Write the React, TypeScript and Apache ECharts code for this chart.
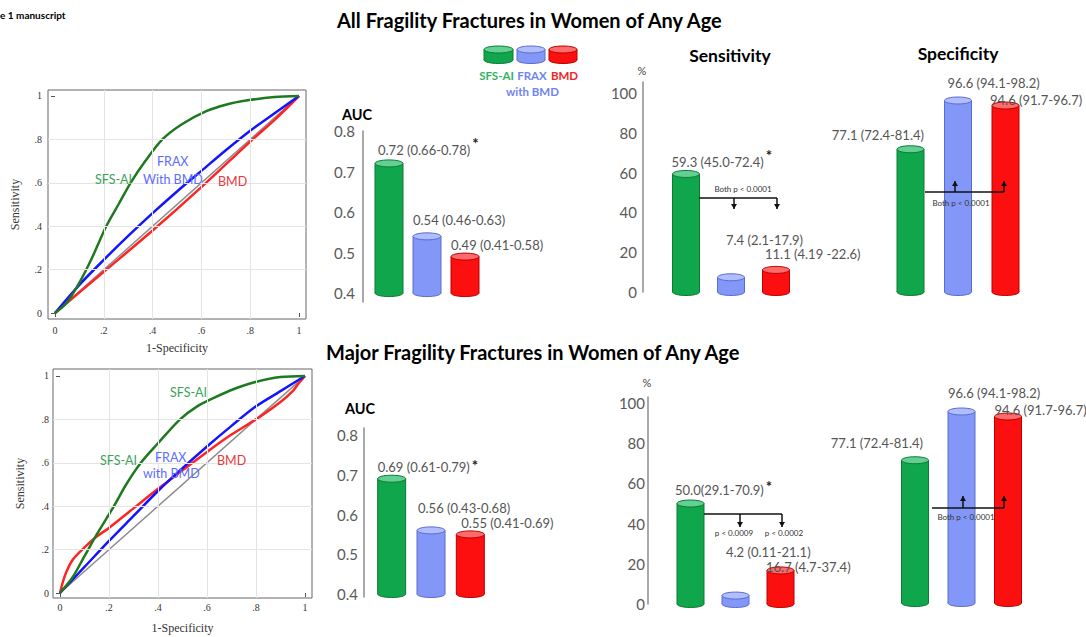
import React, { useEffect, useRef } from "react";
import * as echarts from "echarts";

// ---------- DATA ----------
const models = ["SFS-AI", "FRAX with BMD", "BMD"];

const allAuc = [0.72, 0.54, 0.49];
const allAucLabels = ["0.72 (0.66-0.78)", "0.54 (0.46-0.63)", "0.49 (0.41-0.58)"];
const allSens = [59.3, 7.4, 11.1];
const allSensLabels = ["59.3 (45.0-72.4)", "7.4 (2.1-17.9)", "11.1 (4.19 -22.6)"];
const allSpec = [77.1, 96.6, 94.6];
const allSpecLabels = ["77.1 (72.4-81.4)", "96.6 (94.1-98.2)", "94.6 (91.7-96.7)"];

const majorAuc = [0.69, 0.56, 0.55];
const majorAucLabels = ["0.69 (0.61-0.79)", "0.56 (0.43-0.68)", "0.55 (0.41-0.69)"];
const majorSens = [50.0, 4.2, 16.7];
const majorSensLabels = ["50.0(29.1-70.9)", "4.2 (0.11-21.1)", "16.7 (4.7-37.4)"];
const majorSpec = [77.1, 96.6, 94.6];
const majorSpecLabels = ["77.1 (72.4-81.4)", "96.6 (94.1-98.2)", "94.6 (91.7-96.7)"];

const aucTicks = [0.4, 0.5, 0.6, 0.7, 0.8];
const pctTicks = [0, 20, 40, 60, 80, 100];
const rocTicks = [0, 0.2, 0.4, 0.6, 0.8, 1];
const rocTickLabels = ["0", ".2", ".4", ".6", ".8", "1"];
const rocGridValues = [0.2, 0.4, 0.6, 0.8];

// ROC curves (1-specificity, sensitivity)
const allRocSfs = [[0, 0], [0.05, 0.05], [0.1, 0.14], [0.15, 0.25], [0.21, 0.4], [0.26, 0.5], [0.31, 0.6], [0.37, 0.7], [0.44, 0.8], [0.52, 0.87], [0.62, 0.93], [0.7, 0.96], [0.79, 0.98], [0.9, 0.995], [1, 1]];
const allRocFrax = [[0, 0], [0.1, 0.13], [0.2, 0.245], [0.3, 0.355], [0.4, 0.46], [0.5, 0.56], [0.6, 0.655], [0.7, 0.75], [0.8, 0.84], [0.9, 0.92], [1, 1]];
const allRocBmd = [[0, 0], [0.2, 0.19], [0.4, 0.38], [0.6, 0.58], [0.8, 0.79], [0.9, 0.89], [1, 1]];
const majorRocSfs = [[0, 0], [0.05, 0.07], [0.1, 0.17], [0.15, 0.27], [0.22, 0.4], [0.27, 0.5], [0.33, 0.6], [0.4, 0.69], [0.49, 0.8], [0.56, 0.86], [0.63, 0.9], [0.71, 0.94], [0.79, 0.97], [0.9, 0.995], [1, 1]];
const majorRocFrax = [[0, 0], [0.1, 0.12], [0.2, 0.24], [0.3, 0.355], [0.4, 0.47], [0.5, 0.575], [0.6, 0.675], [0.7, 0.77], [0.8, 0.86], [0.9, 0.93], [1, 1]];
const majorRocBmd = [[0, 0], [0.02, 0.08], [0.05, 0.15], [0.1, 0.21], [0.15, 0.26], [0.2, 0.3], [0.3, 0.39], [0.4, 0.48], [0.5, 0.565], [0.6, 0.65], [0.7, 0.73], [0.8, 0.8], [0.9, 0.88], [0.95, 0.93], [0.97, 0.96], [1, 1]];
const chanceLine = [[0, 0], [1, 1]];

// ---------- STYLE ----------
const FONT = "Lato, 'Open Sans', sans-serif";
const SERIF = "'Liberation Serif', 'DejaVu Serif', serif";
const bodyFill = ["#10a64b", "#8297f7", "#fb0f0f"];
const topFill = ["#63cf92", "#b0bdff", "#ff6b6b"];
const edge = ["#0b7a36", "#5a6cc9", "#b80000"];
const rocColors = ["#1f7a1f", "#1414ff", "#ff2424"];
const rocLabelColors = ["#3aa35a", "#5b6cff", "#e8383d"];

let measureCtx: CanvasRenderingContext2D | null = null;
function textWidth(t: string, font: string) {
  if (!measureCtx) measureCtx = document.createElement("canvas").getContext("2d");
  if (!measureCtx) return t.length * 7;
  measureCtx.font = font;
  return measureCtx.measureText(t).width;
}

type LabelPos = { anchor: "left" | "right"; dx: number; dy: number };
type Panel = {
  grid: { left: number; top: number; width: number; height: number };
  yMin: number; yMax: number; base: number;
  ticks: number[] | null; fmt: (v: number) => string;
  offset: number; labelMargin: number;
  values: number[]; labels: string[];
  barW: number; labelPos: LabelPos[]; starDy?: number;
};

const panels: Panel[] = [
  { grid: { left: 370, top: 131, width: 114, height: 171 }, yMin: 0.378, yMax: 0.8, base: 0.4, ticks: aucTicks, fmt: (v) => v.toFixed(1), offset: 7, labelMargin: 8, values: allAuc, labels: allAucLabels, barW: 28,
    labelPos: [{ anchor: "left", dx: 3, dy: -13 }, { anchor: "left", dx: 0, dy: -16 }, { anchor: "left", dx: 0, dy: -11.5 }], starDy: -7 },
  { grid: { left: 663.5, top: 82, width: 135, height: 210 }, yMin: 0, yMax: 105.5, base: 0, ticks: pctTicks, fmt: (v) => String(v), offset: 20.5, labelMargin: 6, values: allSens, labels: allSensLabels, barW: 27,
    labelPos: [{ anchor: "left", dx: -1, dy: -12 }, { anchor: "left", dx: 8.5, dy: -37 }, { anchor: "left", dx: 2.5, dy: -16 }], starDy: -7 },
  { grid: { left: 886.75, top: 92, width: 142.5, height: 200 }, yMin: 20, yMax: 100, base: 20, ticks: null, fmt: (v) => String(v), offset: 0, labelMargin: 0, values: allSpec, labels: allSpecLabels, barW: 27,
    labelPos: [{ anchor: "right", dx: 0, dy: -14 }, { anchor: "left", dx: 3, dy: -17.5 }, { anchor: "left", dx: -2, dy: -5.5 }] },
  { grid: { left: 372, top: 428, width: 118, height: 169 }, yMin: 0.3925, yMax: 0.8176, base: 0.4, ticks: aucTicks, fmt: (v) => v.toFixed(1), offset: 8, labelMargin: 6, values: majorAuc, labels: majorAucLabels, barW: 28,
    labelPos: [{ anchor: "left", dx: 0, dy: -12 }, { anchor: "left", dx: 1, dy: -22 }, { anchor: "left", dx: 5, dy: -11.5 }], starDy: -2 },
  { grid: { left: 668, top: 397, width: 135, height: 207 }, yMin: 0, yMax: 103, base: 0, ticks: pctTicks, fmt: (v) => String(v), offset: 20, labelMargin: 3, values: majorSens, labels: majorSensLabels, barW: 27,
    labelPos: [{ anchor: "left", dx: -2, dy: -13.5 }, { anchor: "left", dx: 4, dy: -43.5 }, { anchor: "left", dx: -1, dy: -3.5 }], starDy: -4 },
  { grid: { left: 891.75, top: 403, width: 139.5, height: 200 }, yMin: 20, yMax: 100, base: 20, ticks: null, fmt: (v) => String(v), offset: 0, labelMargin: 0, values: majorSpec, labels: majorSpecLabels, barW: 27,
    labelPos: [{ anchor: "right", dx: -5.5, dy: -17 }, { anchor: "left", dx: 0, dy: -18.5 }, { anchor: "left", dx: 0, dy: -6.5 }] },
];

const rocPanels = [
  { grid: { left: 48, top: 90, width: 258, height: 229 }, xMin: -0.0287, xMax: 1.0287, yMin: -0.0276, yMax: 1.0276, curves: [allRocSfs, allRocFrax, allRocBmd], xGap: 23, yGap: 27, labelMargin: 6 },
  { grid: { left: 53, top: 369, width: 259, height: 229 }, xMin: -0.0286, xMax: 1.0286, yMin: -0.023, yMax: 1.032, curves: [majorRocSfs, majorRocFrax, majorRocBmd], xGap: 24, yGap: 27, labelMargin: 4 },
];

const LABEL_FONT_SIZE = 13;

function cylinderSeries(p: Panel, axisIdx: number) {
  return {
    type: "custom",
    xAxisIndex: axisIdx,
    yAxisIndex: axisIdx,
    silent: true,
    z: 3,
    data: p.values.map((v, i) => [i, v]),
    renderItem: (_params: any, api: any) => {
      const i = api.value(0) as number;
      const v = api.value(1) as number;
      const top = api.coord([i, v]);
      const bot = api.coord([i, p.base]);
      const rx = p.barW / 2;
      const ry = 3.5;
      const cx = top[0];
      const lp = p.labelPos[i];
      const lx = lp.anchor === "left" ? cx - rx + lp.dx : cx + rx + lp.dx;
      const ly = top[1] + lp.dy;
      const children: any[] = [
        { type: "ellipse", shape: { cx, cy: bot[1], rx, ry }, style: { fill: bodyFill[i], stroke: edge[i], lineWidth: 1 } },
        { type: "rect", shape: { x: cx - rx, y: top[1], width: rx * 2, height: bot[1] - top[1] }, style: { fill: bodyFill[i] } },
        { type: "line", shape: { x1: cx - rx, y1: top[1], x2: cx - rx, y2: bot[1] }, style: { stroke: edge[i], lineWidth: 1 } },
        { type: "line", shape: { x1: cx + rx, y1: top[1], x2: cx + rx, y2: bot[1] }, style: { stroke: edge[i], lineWidth: 1 } },
        { type: "ellipse", shape: { cx, cy: top[1], rx, ry }, style: { fill: topFill[i], stroke: edge[i], lineWidth: 1 } },
        { type: "text", x: lx, y: ly, style: { text: p.labels[i], fill: "#555555", fontSize: LABEL_FONT_SIZE, lineHeight: 13, fontFamily: FONT, align: lp.anchor, verticalAlign: "middle" } },
      ];
      if (i === 0 && p.starDy !== undefined) {
        const w = textWidth(p.labels[i], `${LABEL_FONT_SIZE}px ${FONT}`);
        const ex = lp.anchor === "left" ? lx + w : lx;
        children.push({ type: "text", x: ex + 2, y: ly + p.starDy, style: { text: "*", fill: "#222222", fontSize: 15, lineHeight: 12, fontWeight: "bold", fontFamily: FONT, align: "left", verticalAlign: "middle" } });
      }
      return { type: "group", children };
    },
  };
}

function txt(text: string, x: number, y: number, o: { size: number; color?: string; weight?: string; align?: string; family?: string; lh?: number }) {
  const align = o.align ?? "left";
  return {
    type: "text", x, y, silent: true, z: 10,
    style: {
      text, fill: o.color ?? "#000",
      fontSize: o.size, fontWeight: o.weight ?? "normal", fontFamily: o.family ?? FONT,
      lineHeight: o.lh ?? Math.round(o.size * 1.1),
      align, textAlign: align, verticalAlign: "middle", textVerticalAlign: "middle",
    },
  };
}

function cylIcon(x: number, w: number, yTop: number, yBot: number, i: number) {
  const rx = w / 2, cx = x + rx, ry = 3.5;
  return [
    { type: "ellipse", shape: { cx, cy: yBot, rx, ry }, style: { fill: bodyFill[i], stroke: edge[i], lineWidth: 1 }, silent: true },
    { type: "rect", shape: { x, y: yTop, width: w, height: yBot - yTop }, style: { fill: bodyFill[i] }, silent: true },
    { type: "line", shape: { x1: x, y1: yTop, x2: x, y2: yBot }, style: { stroke: edge[i], lineWidth: 1 }, silent: true },
    { type: "line", shape: { x1: x + w, y1: yTop, x2: x + w, y2: yBot }, style: { stroke: edge[i], lineWidth: 1 }, silent: true },
    { type: "ellipse", shape: { cx, cy: yTop, rx, ry }, style: { fill: topFill[i], stroke: edge[i], lineWidth: 1 }, silent: true },
  ];
}

function bracket(x1: number, x2: number, y: number, stems: number[][], dir: "up" | "down") {
  const els: any[] = [
    { type: "line", shape: { x1, y1: y, x2, y2: y }, style: { stroke: "#111", lineWidth: 1.5 }, silent: true, z: 10 },
  ];
  stems.forEach(([sx, ye]) => {
    els.push({ type: "line", shape: { x1: sx, y1: y, x2: sx, y2: ye }, style: { stroke: "#111", lineWidth: 1.5 }, silent: true, z: 10 });
    const s = dir === "down" ? -5 : 5;
    els.push({ type: "polygon", shape: { points: [[sx - 3, ye + s], [sx + 3, ye + s], [sx, ye]] }, style: { fill: "#111" }, silent: true, z: 10 });
  });
  return els;
}

export default function App() {
  const ref = useRef<HTMLDivElement>(null);
  useEffect(() => {
    document.body.style.margin = "0";
    if (!ref.current) return;
    const chart = echarts.init(ref.current, undefined, { renderer: "svg" });

    const grids: any[] = [];
    const xAxes: any[] = [];
    const yAxes: any[] = [];
    const series: any[] = [];

    rocPanels.forEach((r) => {
      const gi = grids.length;
      grids.push({ ...r.grid, show: true, borderColor: "#666", borderWidth: 1, backgroundColor: "#fff", containLabel: false });
      const axisCommon = {
        type: "value",
        gridIndex: gi,
        axisLine: { show: false },
        axisTick: { show: true, customValues: rocTicks, length: 4, lineStyle: { color: "#555" } },
        splitLine: { show: false },
        axisLabel: {
          customValues: rocTicks,
          formatter: (v: number) => { const idx = rocTicks.findIndex((t) => Math.abs(t - v) < 1e-6); return idx >= 0 ? rocTickLabels[idx] : ""; },
          fontFamily: SERIF, fontSize: 10, color: "#333", margin: r.labelMargin,
        },
        nameLocation: "middle",
        nameTextStyle: { fontFamily: SERIF, fontSize: 12, color: "#333" },
      };
      xAxes.push({ ...axisCommon, min: r.xMin, max: r.xMax, name: "1-Specificity", nameGap: r.xGap });
      yAxes.push({ ...axisCommon, min: r.yMin, max: r.yMax, name: "Sensitivity", nameGap: r.yGap });
      series.push({
        type: "line", xAxisIndex: gi, yAxisIndex: gi, data: chanceLine, symbol: "none", silent: true, z: 1,
        lineStyle: { color: "#8c8c8c", width: 1.5 },
        markLine: {
          silent: true, symbol: "none", label: { show: false },
          lineStyle: { color: "#e4e4e4", width: 1, type: "solid" },
          data: [...rocGridValues.map((v) => ({ xAxis: v })), ...rocGridValues.map((v) => ({ yAxis: v }))],
        },
      });
      [2, 1, 0].forEach((ci) => {
        series.push({
          type: "line", xAxisIndex: gi, yAxisIndex: gi, data: r.curves[ci], symbol: "none", smooth: 0.3, silent: true,
          z: 2 + (2 - ci),
          lineStyle: { color: rocColors[ci], width: 2.5 },
        });
      });
    });

    panels.forEach((p) => {
      const gi = grids.length;
      grids.push({ ...p.grid, containLabel: false });
      xAxes.push({ type: "category", gridIndex: gi, data: models, show: false });
      if (p.ticks) {
        yAxes.push({
          type: "value", gridIndex: gi, min: p.yMin, max: p.yMax, offset: p.offset,
          axisLine: { show: true, lineStyle: { color: "#8c8c8c", width: 1.5 } },
          axisTick: { show: false },
          splitLine: { show: false },
          axisLabel: { customValues: p.ticks, formatter: p.fmt, color: "#595959", fontSize: 15, lineHeight: 13, fontFamily: FONT, margin: p.labelMargin },
        });
      } else {
        yAxes.push({ type: "value", gridIndex: gi, min: p.yMin, max: p.yMax, show: false, splitLine: { show: false } });
      }
      series.push(cylinderSeries(p, gi));
    });

    const graphic: any[] = [
      txt("e 1 manuscript", 0, 15, { size: 10, weight: "bold" }),
      txt("All Fragility Fractures in Women of Any Age", 337, 20, { size: 20, weight: "bold" }),
      txt("Major Fragility Fractures in Women of Any Age", 326, 352, { size: 20, weight: "bold" }),
      txt("Sensitivity", 730, 55, { size: 17.5, weight: "bold", align: "center" }),
      txt("Specificity", 958, 53, { size: 17.5, weight: "bold", align: "center" }),
      txt("%", 642, 70, { size: 11, color: "#444", align: "center" }),
      txt("%", 647, 382, { size: 11, color: "#444", align: "center" }),
      txt("AUC", 342, 114, { size: 14.5, weight: "bold", lh: 11 }),
      txt("AUC", 345, 408, { size: 14.5, weight: "bold", lh: 11 }),
      // legend
      ...cylIcon(484, 29, 49.5, 60, 0),
      ...cylIcon(517, 28, 49.5, 60, 1),
      ...cylIcon(549, 28, 49.5, 60, 2),
      txt("SFS-AI", 496.5, 75, { size: 11.5, color: "#2fb35e", align: "center", weight: "bold" }),
      txt("FRAX", 532, 75, { size: 11.5, color: "#6f84f2", align: "center", weight: "bold" }),
      txt("BMD", 564.5, 75, { size: 11.5, color: "#f22424", align: "center", weight: "bold" }),
      txt("with BMD", 532.5, 91, { size: 11.5, color: "#6f84f2", align: "center", weight: "bold" }),
      // ROC annotations
      txt("SFS-AI", 95, 179, { size: 12.5, color: rocLabelColors[0] }),
      txt("FRAX", 157, 161, { size: 12.5, color: rocLabelColors[1] }),
      txt("With BMD", 143, 179, { size: 12.5, color: rocLabelColors[1] }),
      txt("BMD", 218, 181, { size: 12.5, color: rocLabelColors[2] }),
      txt("SFS-AI", 170, 392, { size: 12.5, color: rocLabelColors[0] }),
      txt("SFS-AI", 100, 460, { size: 12.5, color: rocLabelColors[0] }),
      txt("FRAX", 155, 457, { size: 12.5, color: rocLabelColors[1] }),
      txt("with BMD", 143, 473, { size: 12.5, color: rocLabelColors[1] }),
      txt("BMD", 217, 460, { size: 12.5, color: rocLabelColors[2] }),
      // brackets
      ...bracket(699, 777, 198, [[734, 209], [777, 209]], "down"),
      txt("Both p < 0.0001", 743, 189, { size: 8, color: "#333", align: "center" }),
      ...bracket(704, 782, 514, [[740, 527], [782, 527]], "down"),
      txt("p < 0.0009", 734, 533, { size: 8, color: "#333", align: "center" }),
      txt("p < 0.0002", 784, 533, { size: 8, color: "#333", align: "center" }),
      ...bracket(925, 1004, 192, [[955, 181], [1004, 181]], "up"),
      txt("Both p < 0.0001", 961, 203, { size: 8, color: "#333", align: "center" }),
      ...bracket(932, 1004, 508, [[963, 496], [1004, 496]], "up"),
      txt("Both p < 0.0001", 966, 517, { size: 8, color: "#333", align: "center" }),
    ];

    chart.setOption({
      animation: false,
      backgroundColor: "#ffffff",
      textStyle: { fontFamily: FONT },
      grid: grids,
      xAxis: xAxes,
      yAxis: yAxes,
      series,
      graphic,
    });
    return () => chart.dispose();
  }, []);
  return <div ref={ref} style={{ width: 1086, height: 637 }} />;
}
